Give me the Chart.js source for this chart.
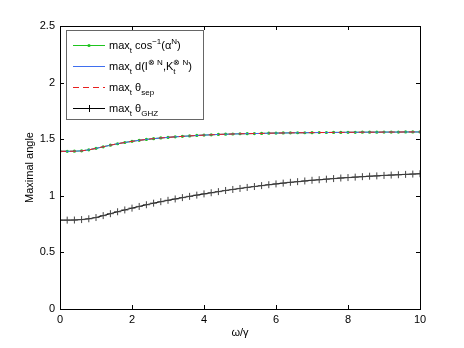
<!DOCTYPE html>
<html>
<head>
<meta charset="utf-8">
<script src="https://cdn.jsdelivr.net/npm/chart.js@4"></script>
<style>
  body { margin: 0; background: #fff; }
  canvas { display: block; }
</style>
</head>
<body>
<canvas id="angleChart" width="464" height="348"></canvas>
<script>
// omega / gamma sample points
const omega = [0, 0.2, 0.4, 0.6, 0.8, 1, 1.2, 1.4, 1.6, 1.8, 2, 2.2, 2.4, 2.6, 2.8, 3, 3.2, 3.4, 3.6, 3.8,
  4, 4.2, 4.4, 4.6, 4.8, 5, 5.2, 5.4, 5.6, 5.8, 6, 6.2, 6.4, 6.6, 6.8, 7, 7.2, 7.4, 7.6, 7.8,
  8, 8.2, 8.4, 8.6, 8.8, 9, 9.2, 9.4, 9.6, 9.8, 10];

// max_t cos^-1(alpha^N)  (the three upper curves lie on top of each other)
const cosAlpha = [1.393, 1.393, 1.394, 1.397, 1.406, 1.419, 1.433, 1.447, 1.460, 1.471,
  1.481, 1.490, 1.498, 1.505, 1.511, 1.516, 1.521, 1.525, 1.529, 1.533,
  1.536, 1.539, 1.542, 1.544, 1.546, 1.548, 1.549, 1.550, 1.551, 1.553,
  1.554, 1.555, 1.556, 1.557, 1.557, 1.558, 1.559, 1.559, 1.560, 1.560,
  1.561, 1.561, 1.562, 1.562, 1.562, 1.563, 1.563, 1.563, 1.564, 1.564, 1.564];
const distK = cosAlpha.slice();
const thetaSep = cosAlpha.slice();

// max_t theta_GHZ
const thetaGHZ = [0.785, 0.785, 0.786, 0.790, 0.797, 0.808, 0.825, 0.842, 0.859, 0.875,
  0.891, 0.906, 0.921, 0.935, 0.948, 0.960, 0.972, 0.984, 0.995, 1.006,
  1.017, 1.027, 1.037, 1.047, 1.056, 1.065, 1.074, 1.082, 1.090, 1.098,
  1.105, 1.112, 1.119, 1.125, 1.131, 1.137, 1.142, 1.147, 1.152, 1.157,
  1.161, 1.165, 1.169, 1.173, 1.176, 1.180, 1.183, 1.186, 1.189, 1.192, 1.195];

const xTicks = [0, 2, 4, 6, 8, 10];
const yTicks = [0, 0.5, 1, 1.5, 2, 2.5];

const FONT = "'Liberation Sans', Arial, Helvetica, sans-serif";

function toPoints(ys) {
  return omega.map((x, i) => ({ x: x, y: ys[i] }));
}

// legend entries with sub/superscripts: [text, shift, noAdvance]
const legendRows = [
  { color: "#1fc41f", dash: [], marker: "dot",
    parts: [["max", 0], ["t", 1], [" cos", 0], ["\u22121", -1], ["(\u03b1", 0], ["N", -1], [")", 0]] },
  { color: "#3f6fef", dash: [], marker: null,
    parts: [["max", 0], ["t", 1], [" d(I", 0], ["\u2297 N", -1], [",K", 0], ["t", 1, true], ["\u2297 N", -1], [")", 0]] },
  { color: "#e82020", dash: [6, 4], marker: null,
    parts: [["max", 0], ["t", 1], [" \u03b8", 0], ["sep", 1]] },
  { color: "#000", dash: [], marker: "cross",
    parts: [["max", 0], ["t", 1], [" \u03b8", 0], ["GHZ", 1]] },
];

function drawRich(ctx, x, y, parts) {
  ctx.textBaseline = "alphabetic";
  ctx.textAlign = "left";
  parts.forEach(([txt, shift, noAdvance]) => {
    const size = shift === 0 ? 11 : 8;
    const dy = shift === 1 ? 4 : shift === -1 ? -5 : 0;
    ctx.font = size + "px " + FONT;
    ctx.fillText(txt, x, y + dy);
    if (!noAdvance) x += ctx.measureText(txt).width;
  });
}

const frameAndLegend = {
  id: "frameAndLegend",
  afterDatasetsDraw(chart) {
    const { ctx, chartArea: a, scales } = chart;
    ctx.save();
    // box around the axes
    ctx.strokeStyle = "#000";
    ctx.lineWidth = 1;
    ctx.strokeRect(Math.round(a.left) + 0.5, Math.round(a.top) + 0.5,
      Math.round(a.right - a.left), Math.round(a.bottom - a.top));
    // inward ticks on all four sides
    const tl = 4;
    ctx.beginPath();
    scales.x.ticks.forEach(t => {
      const px = Math.round(scales.x.getPixelForValue(t.value)) + 0.5;
      ctx.moveTo(px, a.bottom); ctx.lineTo(px, a.bottom - tl);
      ctx.moveTo(px, a.top); ctx.lineTo(px, a.top + tl);
    });
    scales.y.ticks.forEach(t => {
      const py = Math.round(scales.y.getPixelForValue(t.value)) + 0.5;
      ctx.moveTo(a.left, py); ctx.lineTo(a.left + tl, py);
      ctx.moveTo(a.right, py); ctx.lineTo(a.right - tl, py);
    });
    ctx.stroke();

    // legend box
    const bx = 66, by = 30, bw = 137, bh = 89;
    ctx.fillStyle = "#fff";
    ctx.fillRect(bx, by, bw, bh);
    ctx.strokeStyle = "#666";
    ctx.strokeRect(bx + 0.5, by + 0.5, bw, bh);
    legendRows.forEach((row, i) => {
      const ry = 45 + i * 21;
      ctx.strokeStyle = row.color;
      ctx.lineWidth = 1;
      ctx.setLineDash(row.dash);
      ctx.beginPath();
      ctx.moveTo(73, ry + 0.5);
      ctx.lineTo(105, ry + 0.5);
      ctx.stroke();
      ctx.setLineDash([]);
      if (row.marker === "dot") {
        ctx.fillStyle = row.color;
        ctx.beginPath();
        ctx.arc(89, ry + 0.5, 1.6, 0, Math.PI * 2);
        ctx.fill();
      } else if (row.marker === "cross") {
        ctx.beginPath();
        ctx.moveTo(89.5, ry - 3); ctx.lineTo(89.5, ry + 4);
        ctx.moveTo(86, ry + 0.5); ctx.lineTo(93, ry + 0.5);
        ctx.stroke();
      }
      ctx.fillStyle = "#000";
      drawRich(ctx, 109, ry + 3.5, row.parts);
    });
    ctx.restore();
  }
};

new Chart(document.getElementById("angleChart"), {
  type: "line",
  data: {
    datasets: [
      {
        label: "max_t cos^-1(alpha^N)",
        data: toPoints(cosAlpha),
        borderColor: "#1fc41f",
        backgroundColor: "#1fc41f",
        borderWidth: 1,
        pointRadius: 1.6,
        pointBorderWidth: 0,
        pointStyle: "circle",
        order: 3,
      },
      {
        label: "max_t d(I,K_t)",
        data: toPoints(distK),
        borderColor: "#3f6fef",
        borderWidth: 1,
        pointRadius: 0,
        order: 2,
      },
      {
        label: "max_t theta_sep",
        data: toPoints(thetaSep),
        borderColor: "#e82020",
        borderWidth: 1,
        borderDash: [6, 4],
        pointRadius: 0,
        order: 1,
      },
      {
        label: "max_t theta_GHZ",
        data: toPoints(thetaGHZ),
        borderColor: "#000",
        backgroundColor: "#000",
        borderWidth: 1,
        pointStyle: "cross",
        pointRadius: 3.5,
        pointBorderWidth: 1,
        pointBorderColor: "#444",
        order: 0,
      },
    ],
  },
  options: {
    responsive: false,
    animation: false,
    devicePixelRatio: 1,
    layout: { padding: { left: 0, top: 26, right: 44, bottom: 0 } },
    plugins: {
      legend: { display: false },
      tooltip: { enabled: false },
    },
    scales: {
      x: {
        type: "linear",
        min: 0,
        max: 10,
        afterBuildTicks: (s) => { s.ticks = xTicks.map(v => ({ value: v })); },
        afterFit: (s) => { s.height = 39; },
        grid: { display: false, drawTicks: false },
        border: { display: false },
        ticks: {
          padding: 4,
          color: "#000",
          font: { family: FONT, size: 11 },
          maxRotation: 0,
          callback: (v) => String(v),
        },
        title: {
          display: true,
          text: "\u03c9/\u03b3",
          color: "#000",
          font: { family: FONT, size: 11 },
          padding: { top: 0, bottom: 8 },
        },
      },
      y: {
        min: 0,
        max: 2.5,
        afterBuildTicks: (s) => { s.ticks = yTicks.map(v => ({ value: v })); },
        afterFit: (s) => { s.width = 60; },
        grid: { display: false, drawTicks: false },
        border: { display: false },
        ticks: {
          padding: 5,
          color: "#000",
          font: { family: FONT, size: 11 },
          callback: (v) => String(v),
        },
        title: {
          display: true,
          text: "Maximal angle",
          color: "#000",
          font: { family: FONT, size: 11 },
          padding: { top: 23, bottom: 0 },
        },
      },
    },
  },
  plugins: [frameAndLegend],
});
</script>
</body>
</html>
